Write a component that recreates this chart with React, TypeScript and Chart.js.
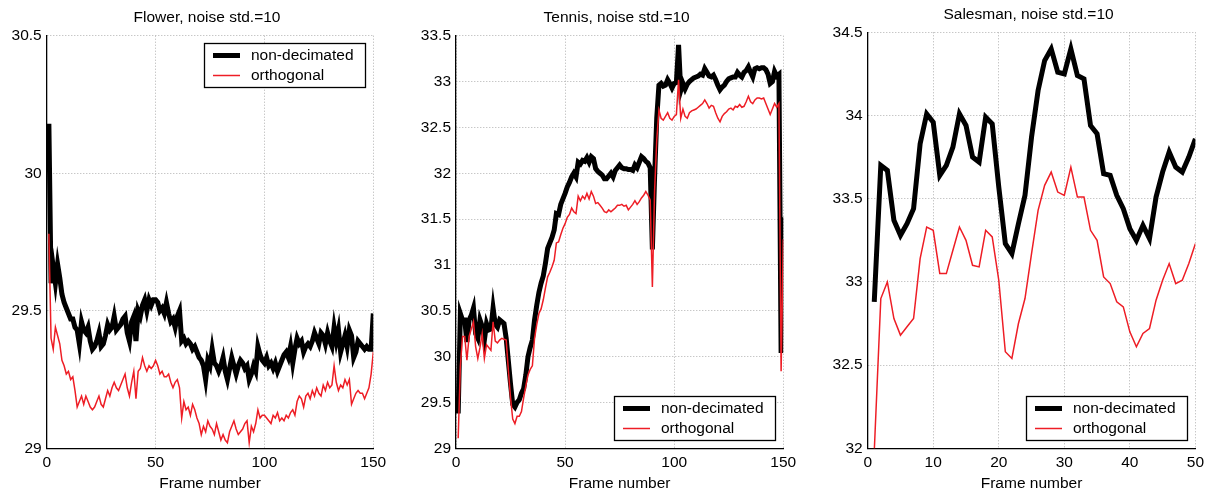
import React, { useEffect, useRef } from "react";
import { Chart, registerables } from "chart.js";

Chart.register(...registerables);

const seriesLabels = ["non-decimated", "orthogonal"];
const xAxisTitle = "Frame number";
const panelTitles = ["Flower, noise std.=10", "Tennis, noise std.=10", "Salesman, noise std.=10"];

const flowerNonDecimated = [
  30.18, 29.6, 29.66, 29.6, 29.67, 29.62, 29.56, 29.53, 29.51, 29.49,
  29.47, 29.47, 29.44, 29.43, 29.38, 29.46, 29.43, 29.42, 29.44, 29.39,
  29.36, 29.37, 29.39, 29.42, 29.37, 29.38, 29.41, 29.45, 29.43, 29.44,
  29.48, 29.43, 29.44, 29.45, 29.47, 29.48, 29.42, 29.39, 29.46, 29.48,
  29.39, 29.5, 29.48, 29.52, 29.54, 29.5, 29.54, 29.52, 29.54, 29.54,
  29.53, 29.5, 29.51, 29.49, 29.53, 29.49, 29.46, 29.47, 29.44, 29.48,
  29.5, 29.39, 29.4, 29.38, 29.39, 29.38, 29.36, 29.37, 29.35, 29.33,
  29.32, 29.3, 29.25, 29.32, 29.3, 29.36, 29.31, 29.3, 29.28, 29.3,
  29.33, 29.28, 29.25, 29.29, 29.33, 29.3, 29.27, 29.3, 29.32, 29.31,
  29.29, 29.3, 29.25, 29.27, 29.3, 29.28, 29.37, 29.34, 29.32, 29.31,
  29.33, 29.3, 29.31, 29.29, 29.31, 29.28, 29.3, 29.32, 29.34, 29.35,
  29.33, 29.37, 29.31, 29.36, 29.4, 29.38, 29.39, 29.35, 29.37, 29.38,
  29.37, 29.39, 29.42, 29.4, 29.38, 29.42, 29.41, 29.38, 29.42, 29.39,
  29.37, 29.44, 29.39, 29.43, 29.35, 29.38, 29.41, 29.37, 29.43, 29.41,
  29.33, 29.35, 29.39, 29.38, 29.37, 29.36, 29.37, 29.36, 29.36, 29.49,
];

const flowerOrthogonal = [
  29.78, 29.4, 29.36, 29.44, 29.41, 29.38, 29.32, 29.3, 29.27, 29.28,
  29.25, 29.26, 29.21, 29.15, 29.17, 29.19, 29.16, 29.19, 29.17, 29.15,
  29.14, 29.15, 29.17, 29.19, 29.16, 29.15, 29.18, 29.21, 29.19, 29.22,
  29.24, 29.22, 29.21, 29.23, 29.25, 29.27, 29.22, 29.19, 29.24, 29.28,
  29.18, 29.28, 29.29, 29.33, 29.3, 29.28, 29.3, 29.29, 29.3, 29.32,
  29.3, 29.27, 29.28, 29.26, 29.26, 29.27, 29.24, 29.22, 29.24, 29.25,
  29.22, 29.11, 29.17, 29.14, 29.15, 29.12, 29.16, 29.14, 29.11, 29.09,
  29.05, 29.08, 29.06, 29.1, 29.08, 29.07, 29.05, 29.09, 29.06, 29.03,
  29.05, 29.03, 29.02, 29.06, 29.08, 29.1, 29.07, 29.05, 29.06, 29.07,
  29.09, 29.1, 29.02, 29.08, 29.06, 29.09, 29.14, 29.11, 29.12, 29.12,
  29.11, 29.1, 29.09, 29.12, 29.11, 29.13, 29.1, 29.11, 29.1, 29.12,
  29.11, 29.13, 29.14, 29.12, 29.17, 29.19, 29.18, 29.15, 29.19, 29.2,
  29.18, 29.21, 29.19, 29.22, 29.2, 29.19, 29.23, 29.21, 29.24, 29.22,
  29.23, 29.3, 29.24, 29.21, 29.23, 29.22, 29.25, 29.23, 29.25, 29.16,
  29.18, 29.2, 29.21, 29.2, 29.2, 29.18, 29.2, 29.22, 29.27, 29.35,
];

const tennisNonDecimated = [
  29.38, 30.47, 30.4, 30.4, 30.16, 30.4, 30.45, 30.53, 30.25, 30.2,
  30.4, 30.33, 30.18, 30.36, 30.29, 30.3, 30.53, 30.35, 30.32, 30.4,
  30.38, 30.36, 30.2, 29.95, 29.7, 29.48, 29.45, 29.5, 29.53, 29.6,
  29.65, 29.8, 30.0, 30.1, 30.18, 30.4, 30.56, 30.7, 30.8, 30.88,
  31.02, 31.18, 31.24, 31.3, 31.38, 31.56, 31.55, 31.66, 31.72, 31.78,
  31.85, 31.9, 31.96, 32.0, 31.96, 32.12, 32.1, 32.14, 32.13, 32.17,
  32.12, 32.18, 32.16, 32.05, 32.02, 32.0, 31.98, 31.94, 31.94, 31.97,
  32.0, 31.96, 32.03, 32.06, 32.09, 32.06, 32.05, 32.05, 32.04, 32.04,
  32.03, 32.09, 32.06, 32.12, 32.18, 32.16, 32.13, 32.11, 32.06, 31.17,
  31.95, 32.6, 32.96, 32.98, 32.95, 32.96, 33.02, 32.98, 32.93, 32.98,
  32.99, 33.4, 32.9, 32.98, 32.92, 32.97, 33.0, 33.02, 33.04, 33.05,
  33.06, 33.08, 33.07, 33.14, 33.1, 33.06, 33.05, 33.07, 33.02, 32.96,
  32.91, 32.94, 32.96, 33.0, 33.03, 33.04, 33.05, 33.05, 33.1, 33.07,
  33.05, 33.1, 33.12, 33.16, 33.1, 33.05, 33.14, 33.15, 33.14, 33.15,
  33.15, 33.13, 33.08, 32.98, 33.0, 33.11, 33.06, 33.08, 30.04, 31.52,
];

const tennisOrthogonal = [
  29.11, 29.9, 30.22, 30.22, 29.96, 30.22, 30.3, 30.38, 30.11, 29.98,
  30.1, 30.25, 29.98, 30.13, 30.1, 30.07, 30.38, 30.17, 30.15, 30.18,
  30.2, 30.19, 30.18, 29.85, 29.55, 29.32, 29.27, 29.35, 29.35, 29.4,
  29.55, 29.68, 29.8, 29.86, 29.9, 30.2, 30.35, 30.47, 30.52, 30.62,
  30.75, 30.87, 30.92, 30.98, 31.05, 31.24, 31.25, 31.33, 31.4, 31.45,
  31.52, 31.55, 31.62, 31.58, 31.56, 31.75, 31.7, 31.75, 31.72, 31.78,
  31.72, 31.8, 31.75, 31.67, 31.68, 31.65, 31.62, 31.58, 31.57, 31.6,
  31.58, 31.6, 31.62, 31.65, 31.65, 31.66, 31.64, 31.65, 31.6, 31.63,
  31.66, 31.7, 31.66, 31.69, 31.73, 31.76, 31.8, 31.76, 31.71, 30.76,
  31.8, 32.36, 32.69, 32.6, 32.58, 32.62, 32.66, 32.6, 32.58, 32.62,
  32.64, 33.02, 32.6, 32.7, 32.62, 32.6, 32.66, 32.68, 32.69, 32.7,
  32.72, 32.74, 32.76, 32.8, 32.76, 32.71, 32.74, 32.73, 32.66, 32.6,
  32.56, 32.62, 32.65, 32.67, 32.7, 32.71, 32.69, 32.73, 32.72, 32.75,
  32.72, 32.73, 32.78, 32.84, 32.78, 32.76, 32.8, 32.82, 32.82, 32.81,
  32.82, 32.76, 32.7, 32.64, 32.7, 32.76, 32.72, 32.76, 29.84, 31.28,
];

const salesmanNonDecimated = [
  32.88, 33.7, 33.67, 33.37, 33.28, 33.35, 33.44, 33.83, 34.01, 33.96,
  33.64, 33.7, 33.81, 34.01, 33.94, 33.75, 33.72, 33.99, 33.95, 33.57,
  33.23, 33.17, 33.35, 33.52, 33.87, 34.15, 34.33, 34.4, 34.26, 34.25,
  34.4, 34.24, 34.22, 33.94, 33.89, 33.65, 33.64, 33.52, 33.44, 33.32,
  33.25, 33.34, 33.26, 33.51, 33.66, 33.78, 33.69, 33.66, 33.75, 33.86,
];

const salesmanOrthogonal = [
  31.98, 32.9, 33.0, 32.78, 32.68, 32.73, 32.78, 33.14, 33.33, 33.31,
  33.05, 33.05, 33.19, 33.33, 33.25, 33.1, 33.09, 33.31, 33.27, 33.01,
  32.58, 32.54, 32.75, 32.9, 33.17, 33.43, 33.58, 33.66, 33.54, 33.52,
  33.69, 33.51, 33.51, 33.31, 33.25, 33.03, 32.99, 32.88, 32.85, 32.7,
  32.61, 32.69, 32.72, 32.89, 33.01, 33.11, 32.99, 33.01, 33.11, 33.23,
];

const FONT = '"Liberation Sans", Arial, Helvetica, sans-serif';
const BLACK = "#000000";
const RED = "#ee1d25";

type Panel = {
  title: string;
  nd: number[];
  orth: number[];
  xMax: number;
  xStep: number;
  yMin: number;
  yMax: number;
  left: number;
  width: number;
  yAxisW: number;
  padRight: number;
  padTop: number;
  titleY: number;
  legendPos: "top" | "bottom";
};

const panels: Panel[] = [
  { title: panelTitles[0], nd: flowerNonDecimated, orth: flowerOrthogonal, xMax: 150, xStep: 50, yMin: 29, yMax: 30.5,
    left: 0, width: 400, yAxisW: 46.7, padRight: 26.7, padTop: 35.7, titleY: 18, legendPos: "top" },
  { title: panelTitles[1], nd: tennisNonDecimated, orth: tennisOrthogonal, xMax: 150, xStep: 50, yMin: 29, yMax: 33.5,
    left: 400, width: 410, yAxisW: 56, padRight: 26.7, padTop: 35.7, titleY: 18, legendPos: "bottom" },
  { title: panelTitles[2], nd: salesmanNonDecimated, orth: salesmanOrthogonal, xMax: 50, xStep: 10, yMin: 32, yMax: 34.5,
    left: 810, width: 399, yAxisW: 57.7, padRight: 11.3, padTop: 32.3, titleY: 14.5, legendPos: "bottom" },
];

const H = 491;

const overlayPlugin = {
  id: "overlay",
  afterDraw(chart: any, _args: any, opts: any) {
    const { ctx, chartArea } = chart;
    ctx.save();
    ctx.font = `15.5px ${FONT}`;
    ctx.fillStyle = "#000";
    ctx.textAlign = "center";
    ctx.textBaseline = "middle";
    ctx.fillText(opts.title, (chartArea.left + chartArea.right) / 2 - 3, opts.titleY);

    const w = 161;
    const h = 44;
    const x = Math.round(chartArea.right - 8.3 - w);
    const y = Math.round(opts.legendPos === "top" ? chartArea.top + 7.3 : chartArea.bottom - 8.3 - h);
    ctx.fillStyle = "#fff";
    ctx.fillRect(x, y, w, h);
    ctx.strokeStyle = "#000";
    ctx.lineWidth = 1.3;
    ctx.strokeRect(x + 0.5, y + 0.5, w, h);
    chart.data.datasets.forEach((ds: any, i: number) => {
      const ly = y + 12.5 + i * 20;
      ctx.beginPath();
      ctx.strokeStyle = ds.borderColor;
      ctx.lineWidth = ds.borderWidth;
      ctx.moveTo(x + 9, ly);
      ctx.lineTo(x + 36, ly);
      ctx.stroke();
      ctx.fillStyle = "#000";
      ctx.textAlign = "left";
      ctx.textBaseline = "middle";
      ctx.fillText(ds.label, x + 47, ly);
    });
    ctx.restore();
  },
};

function PanelChart({ p }: { p: Panel }) {
  const ref = useRef<HTMLCanvasElement>(null);
  useEffect(() => {
    if (!ref.current) return;
    const toPts = (arr: number[]) => arr.map((v, i) => ({ x: i + 1, y: v }));
    const chart = new Chart(ref.current, {
      type: "line",
      data: {
        datasets: [
          { label: seriesLabels[0], data: toPts(p.nd), borderColor: BLACK, backgroundColor: BLACK, borderWidth: 5,
            pointRadius: 0, tension: 0, order: 1, borderJoinStyle: "miter" },
          { label: seriesLabels[1], data: toPts(p.orth), borderColor: RED, backgroundColor: RED, borderWidth: 1.5,
            pointRadius: 0, tension: 0, order: 0 },
        ],
      },
      options: {
        animation: false,
        responsive: false,
        devicePixelRatio: 1,
        layout: { padding: { top: p.padTop, right: p.padRight, left: 0, bottom: 0 } },
        plugins: {
          legend: { display: false },
          tooltip: { enabled: false },
          overlay: { title: p.title, titleY: p.titleY, legendPos: p.legendPos },
        } as any,
        scales: {
          x: {
            type: "linear",
            min: 0,
            max: p.xMax,
            ticks: { stepSize: p.xStep, color: "#000", font: { family: FONT, size: 15.5 }, padding: 5, maxRotation: 0,
              callback: (v: any) => String(Number(v)) },
            grid: { color: "#b0b0b0", drawTicks: false, lineWidth: 1 },
            border: { display: true, color: "#000", width: 1.3, dash: [1, 2] },
            title: { display: true, text: xAxisTitle, color: "#000", font: { family: FONT, size: 15.5, lineHeight: 1 }, padding: 0 },
            afterFit: (s: any) => { s.height = H - 448.3; },
          },
          y: {
            type: "linear",
            min: p.yMin,
            max: p.yMax,
            ticks: { stepSize: 0.5, color: "#000", font: { family: FONT, size: 15.5 }, padding: 5,
              callback: (v: any) => String(Number(v)) },
            grid: { color: "#b0b0b0", drawTicks: false, lineWidth: 1 },
            border: { display: true, color: "#000", width: 1.3, dash: [1, 2] },
            afterFit: (s: any) => { s.width = p.yAxisW; },
          },
        },
      },
      plugins: [overlayPlugin],
    } as any);
    return () => chart.destroy();
  }, [p]);
  return (
    <canvas
      ref={ref}
      width={p.width}
      height={H}
      style={{ position: "absolute", left: p.left, top: 0, width: p.width, height: H }}
    />
  );
}

export default function App() {
  return (
    <div style={{ position: "absolute", left: 0, top: 0, width: 1209, height: H, background: "#fff" }}>
      {panels.map((p, i) => (
        <PanelChart key={i} p={p} />
      ))}
    </div>
  );
}
